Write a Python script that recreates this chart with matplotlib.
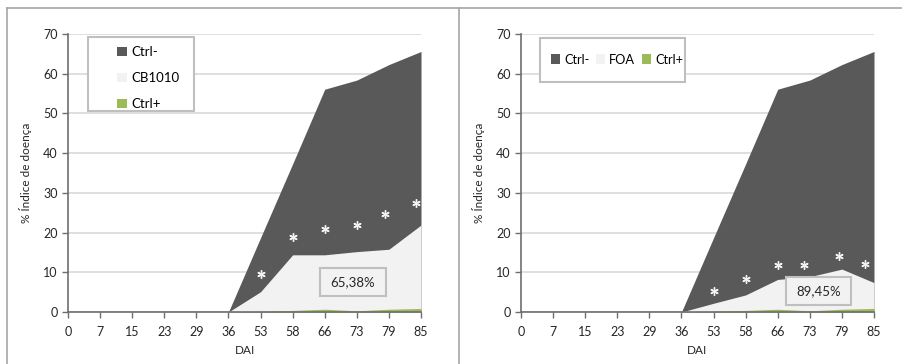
import matplotlib
matplotlib.use("Agg")
import matplotlib.pyplot as plt
from matplotlib.patches import Patch, Rectangle
from matplotlib.lines import Line2D

plt.rcParams['font.family'] = ['Lato', 'DejaVu Sans']

# dados
dai = ['0', '7', '15', '23', '29', '36', '53', '58', '66', '73', '79', '85']
ctrl_neg = [0, 0, 0, 0, 0, 0, 18.7, 37.3, 56.1, 58.4, 62.3, 65.6]
cb1010 = [0, 0, 0, 0, 0, 0, 5.1, 14.4, 14.4, 15.2, 15.8, 21.9]
foa = [0, 0, 0, 0, 0, 0, 2.2, 4.3, 8.2, 8.9, 10.8, 7.4]
ctrl_pos = [0, 0, 0, 0, 0, 0, 0.2, 0.4, 0.7, 0.3, 0.7, 0.9]

# asteriscos (posicao em categorias, valor)
ast_x_esq = [6.0, 7.0, 8.0, 9.0, 9.88, 10.84]
ast_y_esq = [9.6, 18.9, 20.9, 21.9, 24.7, 27.4]
ast_x_dir = [6.0, 7.0, 8.0, 8.82, 9.9, 10.72]
ast_y_dir = [5.3, 8.3, 11.8, 11.8, 14.1, 12.1]

rotulo_esq = '65,38%'
rotulo_dir = '89,45%'

ESCURO = '#595959'
CLARO = '#F2F2F2'
VERDE = '#9BBB59'
GRADE = '#D9D9D9'
BORDA = '#BFBFBF'

fig = plt.figure(figsize=(9.02, 3.64), dpi=100)

# molduras dos paineis
W, H = 902, 364
def linha(x0, y0, x1, y1):
    fig.add_artist(Line2D([x0 / W, x1 / W], [1 - y0 / H, 1 - y1 / H],
                          color='#A6A6A6', lw=1.2, transform=fig.transFigure))
linha(7, 8, 902, 8)
linha(7, 8, 7, 364)
linha(459, 8, 459, 364)


def painel(left, trat, nome_trat, ast_x, ast_y, rotulo, caixa, legenda_h):
    ax = fig.add_axes([left / W, 1 - 312 / H, 353 / W, 278 / H])
    x = list(range(len(dai)))
    ax.fill_between(x, 0, ctrl_neg, color=ESCURO, lw=0, zorder=2)
    ax.fill_between(x, 0, trat, color=CLARO, lw=0, zorder=3)
    ax.fill_between(x, 0, ctrl_pos, color=VERDE, lw=0, zorder=4)
    ax.plot(ast_x, ast_y, ls='none', marker=(6, 2, 0), markersize=6,
            markeredgewidth=1.0, color=CLARO, zorder=6)
    ax.set_xlim(0, len(dai) - 1)
    ax.set_ylim(0, 70)
    ax.set_xticks(x)
    ax.set_xticklabels(dai)
    ax.set_yticks(range(0, 71, 10))
    ax.grid(axis='y', color=GRADE, lw=1.2, zorder=0)
    ax.set_axisbelow(True)
    for s in ['top', 'right']:
        ax.spines[s].set_visible(False)
    for s in ['left', 'bottom']:
        ax.spines[s].set_color('#6E6E6E')
        ax.spines[s].set_linewidth(1.2)
        ax.spines[s].set_zorder(5)
    ax.tick_params(axis='both', colors='#6E6E6E', labelcolor='#262626',
                   labelsize=9, length=4, width=1.0)
    ax.tick_params(axis='x', pad=6)
    ax.set_xlabel('DAI', fontsize=8.5, color='#262626', labelpad=5)
    ax.set_ylabel('% Índice de doença', fontsize=8.5, color='#262626', labelpad=8)

    # caixa do percentual
    bx, by, bw, bh = caixa
    ax.add_patch(Rectangle((bx, by), bw, bh, transform=ax.transAxes,
                           facecolor=CLARO, edgecolor=BORDA, lw=1.5, zorder=7))
    ax.text(bx + bw / 2, by + bh / 2, rotulo, transform=ax.transAxes,
            ha='center', va='center', fontsize=9.5, color='#262626', zorder=8)

    handles = [Patch(facecolor=ESCURO, edgecolor='none'),
               Patch(facecolor=CLARO, edgecolor='none'),
               Patch(facecolor=VERDE, edgecolor='none')]
    labels = ['Ctrl-', nome_trat, 'Ctrl+']
    if legenda_h:
        ax.add_patch(Rectangle((0.054, 0.723 + 0.106), 0.41, 0.158, transform=ax.transAxes,
                               facecolor='white', edgecolor=BORDA, lw=1.5, zorder=7))
        leg = ax.legend(handles, labels, ncol=3, frameon=False, fontsize=9.2,
                        loc='center left', bbox_to_anchor=(0.07, 0.908),
                        handlelength=0.75, handleheight=0.75, handletextpad=0.3,
                        columnspacing=0.5, borderaxespad=0)
    else:
        ax.add_patch(Rectangle((0.057, 0.723), 0.30, 0.266, transform=ax.transAxes,
                               facecolor='white', edgecolor=BORDA, lw=1.5, zorder=7))
        leg = ax.legend(handles, labels, ncol=1, frameon=False, fontsize=9.5,
                        loc='upper left', bbox_to_anchor=(0.125, 0.975),
                        handlelength=0.75, handleheight=0.75, handletextpad=0.3,
                        labelspacing=1.05, borderaxespad=0)
    leg.set_zorder(8)
    return ax


painel(68, cb1010, 'CB1010', ast_x_esq, ast_y_esq, rotulo_esq,
       (0.714, 0.0576, 0.187, 0.1007), False)
painel(521, foa, 'FOA', ast_x_dir, ast_y_dir, rotulo_dir,
       (0.751, 0.025, 0.184, 0.1007), True)

fig.savefig('out.png', dpi=100)
